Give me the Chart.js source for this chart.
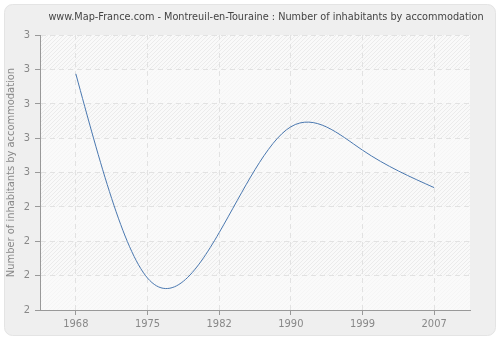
<!DOCTYPE html>
<html lang="en">
<head>
<meta charset="UTF-8">
<title>Montreuil-en-Touraine</title>
<script src="https://cdn.jsdelivr.net/npm/chart.js"></script>
<style>
  html, body { margin: 0; padding: 0; background: #fff; }
  #wrap { width: 500px; height: 340px; position: relative; }
</style>
</head>
<body>
<div id="wrap"><canvas id="chart"></canvas></div>
<script>
  const years = ['1968', '1975', '1982', '1990', '1999', '2007']
  const inhabitants = [2.787, 2.193, 2.325, 2.633, 2.565, 2.456]
  const yTicks = [2.1, 2.2, 2.3, 2.4, 2.5, 2.6, 2.7, 2.8, 2.9]
  const titleText = 'www.Map-France.com - Montreuil-en-Touraine : Number of inhabitants by accommodation'
  const fontFamily = "'DejaVu Sans Condensed', 'Liberation Sans', sans-serif"

  // panel + hatched plot background with alternating bands, title
  const backdrop = {
    id: 'backdrop',
    beforeDraw(chart) {
      const c = chart.ctx, a = chart.chartArea, ys = chart.scales.y
      c.save()
      c.fillStyle = '#fff'
      c.fillRect(0, 0, chart.width, chart.height)
      c.beginPath()
      c.roundRect(4.5, 4.5, chart.width - 9, chart.height - 9, 8)
      c.fillStyle = '#efefef'
      c.fill()
      c.strokeStyle = '#e4e4e4'
      c.stroke()
      c.fillStyle = '#f9f9f9'
      c.fillRect(a.left, a.top, a.width, a.height)
      c.beginPath()
      c.rect(a.left, a.top, a.width, a.height)
      c.clip()
      c.strokeStyle = '#ebebeb'
      c.lineWidth = 1
      for (let x = a.left - a.height; x < a.right; x += 4) {
        c.beginPath()
        c.moveTo(x, a.bottom)
        c.lineTo(x + a.height, a.top)
        c.stroke()
      }
      c.fillStyle = 'rgba(250,250,250,0.65)'
      for (let i = 0; i < yTicks.length - 1; i += 2) {
        const y0 = ys.getPixelForValue(yTicks[i]), y1 = ys.getPixelForValue(yTicks[i + 1])
        c.fillRect(a.left, y1, a.width, y0 - y1)
      }
      c.restore()
      c.save()
      c.font = '10.8px ' + fontFamily
      c.fillStyle = '#444'
      c.textAlign = 'center'
      c.textBaseline = 'middle'
      c.fillText(titleText, 266, 17)
      c.restore()
    }
  }

  // natural cubic spline through the line's points instead of chart.js' default bezier
  const naturalSpline = {
    id: 'naturalSpline',
    beforeDatasetsDraw(chart) {
      chart.getSortedVisibleDatasetMetas().forEach(meta => {
        const line = meta.dataset
        line.updateControlPoints(chart.chartArea, 'x')
        const pts = line.points, n = pts.length - 1
        if (n < 2) return
        const h = pts.map((p, i) => i < n ? pts[i + 1].x - p.x : 0)
        const d = pts.map((p, i) => i < n ? (pts[i + 1].y - p.y) / h[i] : 0)
        // second derivatives, M0 = Mn = 0
        const M = new Array(n + 1).fill(0)
        const a = [], b = [], c = [], r = []
        for (let i = 1; i < n; i++) {
          a[i] = h[i - 1]; b[i] = 2 * (h[i - 1] + h[i]); c[i] = h[i]
          r[i] = 6 * (d[i] - d[i - 1])
        }
        for (let i = 2; i < n; i++) {
          const w = a[i] / b[i - 1]
          b[i] -= w * c[i - 1]
          r[i] -= w * r[i - 1]
        }
        for (let i = n - 1; i >= 1; i--) {
          M[i] = (r[i] - (i < n - 1 ? c[i] * M[i + 1] : 0)) / b[i]
        }
        pts.forEach((p, i) => {
          let m
          if (i < n) m = d[i] - h[i] * (2 * M[i] + M[i + 1]) / 6
          else m = d[n - 1] + h[n - 1] * (M[n - 1] + 2 * M[n]) / 6
          if (i < n) { p.cp2x = p.x + h[i] / 3; p.cp2y = p.y + m * h[i] / 3 }
          if (i > 0) { p.cp1x = p.x - h[i - 1] / 3; p.cp1y = p.y - m * h[i - 1] / 3 }
        })
      })
    }
  }

  new Chart(document.getElementById('chart'), {
    type: 'line',
    data: {
      labels: years,
      datasets: [{
        data: inhabitants,
        borderColor: '#4a78b0',
        borderWidth: 1,
        pointRadius: 0,
        tension: 0.4,
        fill: false
      }]
    },
    options: {
      responsive: true,
      maintainAspectRatio: false,
      animation: false,
      layout: { padding: { left: 5, right: 30, top: 35, bottom: 0 } },
      plugins: {
        legend: { display: false },
        tooltip: { enabled: false },
        title: { display: false }
      },
      scales: {
        x: {
          offset: true,
          grid: {
            color: '#e2e2e2',
            tickColor: '#999',
            tickLength: 5,
            tickBorderDash: []
          },
          border: { color: '#999', dash: [5, 4] },
          ticks: { color: '#888', font: { family: fontFamily, size: 11 }, padding: 3, maxRotation: 0 },
          afterFit(s) { s.height = 30 }
        },
        y: {
          min: yTicks[0],
          max: yTicks[yTicks.length - 1],
          afterBuildTicks(s) { s.ticks = yTicks.map(v => ({ value: v })) },
          grid: {
            color: '#e2e2e2',
            tickColor: '#999',
            tickLength: 5,
            tickBorderDash: []
          },
          border: { color: '#999', dash: [5, 4] },
          ticks: {
            color: '#888',
            font: { family: fontFamily, size: 11 },
            padding: 5,
            callback: v => Math.round(v)
          },
          title: {
            display: true,
            text: 'Number of inhabitants by accommodation',
            color: '#888',
            font: { family: fontFamily, size: 11 },
            padding: 0
          },
          afterFit(s) { s.width = 35 }
        }
      }
    },
    plugins: [backdrop, naturalSpline]
  })
</script>
</body>
</html>
